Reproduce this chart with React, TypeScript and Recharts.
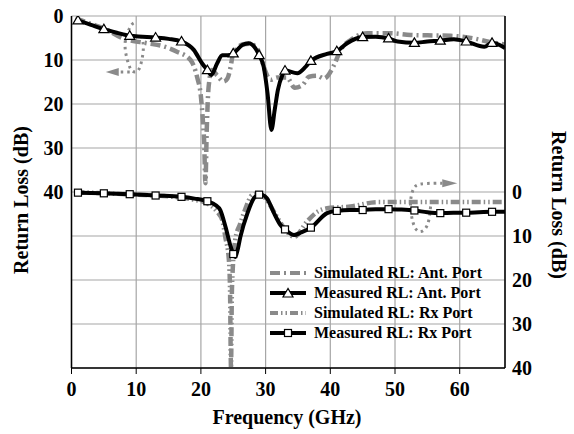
import React from 'react';
import { LineChart, Line, XAxis, YAxis, CartesianGrid, ReferenceDot } from 'recharts';

const FONT = '"Liberation Serif", "Times New Roman", serif';
const GRAY = '#8a8a8a';

// axis ticks
const xTicks = [0, 10, 20, 30, 40, 50, 60];
const xMinorTicks = [5, 15, 25, 35, 45, 55, 65];
const xTopTicks = [0, 5, 10, 15, 20, 25, 30, 35, 40, 45, 50, 55, 60, 65];
const leftTicks = [0, 10, 20, 30, 40, 50, 60, 70, 80];
const leftMinorTicks = [5, 15, 25, 35, 45, 55, 65, 75];
const rightTicks = [-40, -30, -20, -10, 0, 10, 20, 30, 40];
const rightMinorTicks = [-35, -25, -15, -5, 5, 15, 25, 35];

// Simulated RL: Ant. Port (left axis)
const antSimF = [0.6, 3, 5, 8, 11.7, 14, 16.3, 18.4, 19.4, 20.0, 20.3, 20.5, 20.7, 20.9, 21.2, 21.7, 22.5, 23.5, 24.1, 24.6, 24.9, 25.5, 26.5, 27.5, 28.5, 29.3, 29.8, 30.8, 31.8, 33.3, 34.5, 35.7, 36.7, 38, 39, 40.6, 41.6, 43.1, 45.7, 49.1, 52.4, 55, 58.6, 62.2, 64.3, 67];
const antSimDb = [0.5, 1.8, 2.8, 5.1, 6.2, 6.8, 8.1, 10.0, 13.8, 18.3, 23.6, 28.5, 38, 26, 16, 12.3, 13.5, 14.9, 14.2, 11.5, 9.0, 7.5, 6.4, 6.3, 7.0, 9.5, 11.9, 14.5, 14.0, 14.0, 16.3, 15.7, 13.8, 13.6, 14.2, 11.1, 7.7, 5.5, 3.9, 3.9, 4.3, 4.4, 4.5, 5.1, 5.8, 6.5];

// Measured RL: Ant. Port (left axis)
const antMeasF = [1, 3, 5, 7, 9, 11, 13, 15, 17, 18.9, 20.2, 21, 21.6, 22.5, 23.3, 24.1, 25, 26.4, 27.4, 28.4, 29, 29.7, 30.3, 30.9, 31.4, 31.9, 32.6, 33, 34.9, 36.2, 37, 39.5, 41, 42.6, 45, 47, 49, 50.4, 53, 55, 57, 59.1, 61, 63.8, 65, 67];
const antMeasDb = [1.0, 2.0, 3.0, 3.8, 4.5, 4.7, 4.9, 5.2, 5.8, 7.7, 10.8, 12.3, 13.4, 10.8, 8.9, 8.9, 8.5, 6.6, 6.2, 7.3, 8.9, 11.5, 17.6, 25.9, 21.4, 16.8, 13.4, 12.4, 13.0, 11.5, 10.2, 8.6, 8.0, 6.2, 4.8, 4.7, 5.1, 5.8, 6.1, 5.8, 5.6, 5.3, 5.8, 7.0, 6.1, 7.3];
const antMarks = [1, 5, 9, 13, 17, 21, 25, 29, 33, 37, 41, 45, 49, 53, 57, 61, 65];

// Simulated RL: Rx Port (right axis)
const rxSimF = [0.6, 5, 10, 15, 19, 21, 22.5, 23.3, 23.8, 24.3, 24.5, 24.65, 24.8, 25.3, 26.1, 26.9, 27.9, 28.9, 30, 31.5, 33, 34.4, 36.4, 38, 39.5, 43.1, 47.3, 51, 57, 62, 67];
const rxSimDb = [0.0, 0.3, 0.6, 1.0, 1.8, 2.6, 4.5, 6.4, 10.5, 15, 22, 40, 22, 10.9, 7.1, 3.7, 0.7, 0.3, 1.5, 5.0, 8.5, 10.2, 6.7, 4.5, 3.7, 3.3, 2.3, 2.3, 2.3, 2.3, 2.3];

// Measured RL: Rx Port (right axis)
const rxMeasF = [1, 5, 9, 13, 17, 19, 21, 22.3, 23, 23.8, 24.6, 25, 25.3, 25.7, 26.1, 27.2, 28.2, 29, 29.6, 30.2, 31.3, 32.3, 33, 34.4, 35.5, 37, 39.5, 41, 43, 45, 47, 49, 51, 53, 55, 57, 59, 61, 63, 65, 67];
const rxMeasDb = [0.15, 0.3, 0.5, 0.8, 1.1, 1.5, 2.1, 3.0, 4.1, 7.9, 12.4, 14.1, 14.8, 13.0, 10.2, 4.8, 1.4, 0.6, 0.7, 1.4, 4.8, 7.5, 8.5, 9.8, 9.2, 8.1, 4.8, 4.3, 4.1, 4.1, 3.9, 3.9, 4.0, 4.2, 4.6, 4.8, 4.7, 4.7, 4.6, 4.5, 4.5];
const rxMarks = [1, 5, 9, 13, 17, 21, 25, 29, 33, 37, 41, 45, 49, 53, 57, 61, 65];

// curved arrows pointing at each curve's axis
const antLoopF = [10.8, 11.1, 10.6, 9.9, 9.1, 8.4, 8.4, 9.3, 10.0];
const antLoopDb = [4.5, 7.5, 11.5, 12.7, 11.9, 8.5, 5.0, 2.0, 1.5];
const antStemF = [9.0, 7.3];
const antStemDb = [12.7, 12.7];
const antArrow = { f: 7.3, db: 12.7 };
const rxLoopF = [55.5, 55.0, 53.8, 52.8, 52.4, 52.9, 54.0, 56.0, 57.3];
const rxLoopDb = [3.3, 7.5, 9.0, 7.0, 2.5, -0.8, -1.8, -2.0, -2.0];
const rxArrow = { f: 57.3, db: -2.0 };

const legendLabels = [
  'Simulated RL: Ant. Port',
  'Measured RL: Ant. Port',
  'Simulated RL: Rx Port',
  'Measured RL: Rx Port',
];

const zip = (f: number[], v: number[]) => f.map((x, i) => ({ f: x, v: v[i] }));

const antSim = zip(antSimF, antSimDb);
const antMeas = zip(antMeasF, antMeasDb);
const rxSim = zip(rxSimF, rxSimDb);
const rxMeas = zip(rxMeasF, rxMeasDb);
const antLoop = zip(antLoopF, antLoopDb);
const antStem = zip(antStemF, antStemDb);
const rxLoop = zip(rxLoopF, rxLoopDb);

const triangleDot = (props: any) => {
  const { cx, cy, payload, index } = props;
  if (!antMarks.includes(payload.f)) return <g key={`t${index}`} />;
  return (
    <polygon
      key={`t${index}`}
      points={`${cx},${cy - 5} ${cx - 5},${cy + 3.5} ${cx + 5},${cy + 3.5}`}
      fill="#fff"
      stroke="#000"
      strokeWidth={1.2}
    />
  );
};

const squareDot = (props: any) => {
  const { cx, cy, payload, index } = props;
  if (!rxMarks.includes(payload.f)) return <g key={`s${index}`} />;
  return <rect key={`s${index}`} x={cx - 3.5} y={cy - 3.5} width={7} height={7} fill="#fff" stroke="#000" strokeWidth={1.2} />;
};

const arrowLeft = (p: any) => (
  <polygon points={`${p.cx},${p.cy - 4} ${p.cx},${p.cy + 4} ${p.cx - 13},${p.cy}`} fill={GRAY} />
);
const arrowRight = (p: any) => (
  <polygon points={`${p.cx},${p.cy - 4} ${p.cx},${p.cy + 4} ${p.cx + 15},${p.cy}`} fill={GRAY} />
);

const tickStyle = { fontSize: 20, fontWeight: 'bold', fill: '#000', fontFamily: FONT };

const LegendSymbol = ({ i }: { i: number }) => {
  if (i === 0)
    return <line x1={2} y1={6} x2={38} y2={6} stroke={GRAY} strokeWidth={4} strokeDasharray="10 4 2 4" />;
  if (i === 2)
    return <line x1={2} y1={6} x2={38} y2={6} stroke={GRAY} strokeWidth={4} strokeDasharray="8 3 1.5 3 1.5 3" />;
  return (
    <g>
      <line x1={2} y1={6} x2={38} y2={6} stroke="#000" strokeWidth={4} />
      {i === 1 ? (
        <polygon points="20,1.5 15,10 25,10" fill="#fff" stroke="#000" strokeWidth={1.2} />
      ) : (
        <rect x={16.5} y={2.5} width={7} height={7} fill="#fff" stroke="#000" strokeWidth={1.2} />
      )}
    </g>
  );
};

const App: React.FC = () => {
  return (
    <div style={{ position: 'absolute', left: 0, top: 0, width: 574, height: 434, background: '#fff' }}>
      <LineChart width={574} height={434} margin={{ top: 16, right: 0, bottom: 0, left: 0 }}>
        <CartesianGrid xAxisId="x" yAxisId="left" stroke="#a6a6a6" strokeWidth={1.2} />
        <XAxis
          xAxisId="x"
          type="number"
          dataKey="f"
          domain={[0, 67]}
          ticks={xTicks}
          interval={0}
          allowDataOverflow
          height={66}
          axisLine={{ stroke: '#000', strokeWidth: 1.5 }}
          tickLine={{ stroke: '#000' }}
          tickSize={6}
          tickMargin={8}
          tick={tickStyle}
        />
        <XAxis
          xAxisId="xMinor"
          type="number"
          domain={[0, 67]}
          ticks={xMinorTicks}
          interval={0}
          allowDataOverflow
          mirror
          height={0}
          axisLine={false}
          tick={false}
          tickLine={{ stroke: '#000' }}
          tickSize={4}
        />
        <XAxis
          xAxisId="top"
          orientation="top"
          type="number"
          domain={[0, 67]}
          ticks={xTopTicks}
          interval={0}
          allowDataOverflow
          mirror
          height={0}
          axisLine={{ stroke: '#000', strokeWidth: 1.5 }}
          tick={false}
          tickLine={{ stroke: '#000' }}
          tickSize={4}
        />
        <YAxis
          yAxisId="left"
          type="number"
          domain={[0, 80]}
          reversed
          ticks={leftTicks}
          interval={0}
          allowDataOverflow
          width={71.5}
          axisLine={{ stroke: '#000', strokeWidth: 1.5 }}
          tickLine={false}
          tickSize={0}
          tickMargin={8}
          tick={tickStyle}
          tickFormatter={(v: number) => (v <= 40 ? String(v) : '')}
        />
        <YAxis
          yAxisId="leftMinor"
          type="number"
          domain={[0, 80]}
          reversed
          ticks={leftMinorTicks}
          interval={0}
          allowDataOverflow
          mirror
          width={0}
          axisLine={false}
          tick={false}
          tickLine={{ stroke: '#000' }}
          tickSize={4}
        />
        <YAxis
          yAxisId="right"
          orientation="right"
          type="number"
          domain={[-40, 40]}
          reversed
          ticks={rightTicks}
          interval={0}
          allowDataOverflow
          width={69}
          axisLine={{ stroke: '#000', strokeWidth: 1.5 }}
          tickLine={false}
          tickSize={0}
          tickMargin={7}
          tick={tickStyle}
          tickFormatter={(v: number) => (v >= 0 ? String(v) : '')}
        />
        <YAxis
          yAxisId="rightMinor"
          orientation="right"
          type="number"
          domain={[-40, 40]}
          reversed
          ticks={rightMinorTicks}
          interval={0}
          allowDataOverflow
          mirror
          width={0}
          axisLine={false}
          tick={false}
          tickLine={{ stroke: '#000' }}
          tickSize={4}
        />

        <Line xAxisId="x" yAxisId="left" data={antLoop} dataKey="v" type="natural" stroke={GRAY} strokeWidth={3} strokeDasharray="2.5 4" dot={false} legendType="none" isAnimationActive={false} />
        <Line xAxisId="x" yAxisId="left" data={antStem} dataKey="v" type="linear" stroke={GRAY} strokeWidth={3} strokeDasharray="2.5 4" dot={false} legendType="none" isAnimationActive={false} />
        <Line xAxisId="x" yAxisId="right" data={rxLoop} dataKey="v" type="natural" stroke={GRAY} strokeWidth={3} strokeDasharray="2.5 4" dot={false} legendType="none" isAnimationActive={false} />

        <Line xAxisId="x" yAxisId="left" data={antSim} dataKey="v" type="monotone" stroke={GRAY} strokeWidth={4.5} strokeDasharray="10 4 2 4" dot={false} isAnimationActive={false} />
        <Line xAxisId="x" yAxisId="right" data={rxSim} dataKey="v" type="monotone" stroke={GRAY} strokeWidth={4.5} strokeDasharray="9 3 1.5 3 1.5 3" dot={false} isAnimationActive={false} />
        <Line xAxisId="x" yAxisId="left" data={antMeas} dataKey="v" type="monotone" stroke="#000" strokeWidth={4} dot={triangleDot} isAnimationActive={false} />
        <Line xAxisId="x" yAxisId="right" data={rxMeas} dataKey="v" type="monotone" stroke="#000" strokeWidth={4} dot={squareDot} isAnimationActive={false} />

        <ReferenceDot xAxisId="x" yAxisId="left" x={antArrow.f} y={antArrow.db} shape={arrowLeft} />
        <ReferenceDot xAxisId="x" yAxisId="right" x={rxArrow.f} y={rxArrow.db} shape={arrowRight} />
      </LineChart>

      <svg width={574} height={434} style={{ position: 'absolute', left: 0, top: 0, pointerEvents: 'none' }}>
        <g fontFamily={FONT} fontWeight="bold" fontSize={20} fill="#000">
          <text x={287} y={424} textAnchor="middle">Frequency (GHz)</text>
          <text x={28} y={200} textAnchor="middle" transform="rotate(-90 28 200)">Return Loss (dB)</text>
          <text x={552} y={205} textAnchor="middle" transform="rotate(90 552 205)">Return Loss (dB)</text>
        </g>
      </svg>

      <div style={{ position: 'absolute', left: 268, top: 263, fontFamily: FONT, fontWeight: 'bold', fontSize: 16 }}>
        {legendLabels.map((label, i) => (
          <div key={label} style={{ display: 'flex', alignItems: 'center', height: 20 }}>
            <svg width={42} height={12} style={{ marginRight: 4 }}>
              <LegendSymbol i={i} />
            </svg>
            <span>{label}</span>
          </div>
        ))}
      </div>
    </div>
  );
};

export default App;
